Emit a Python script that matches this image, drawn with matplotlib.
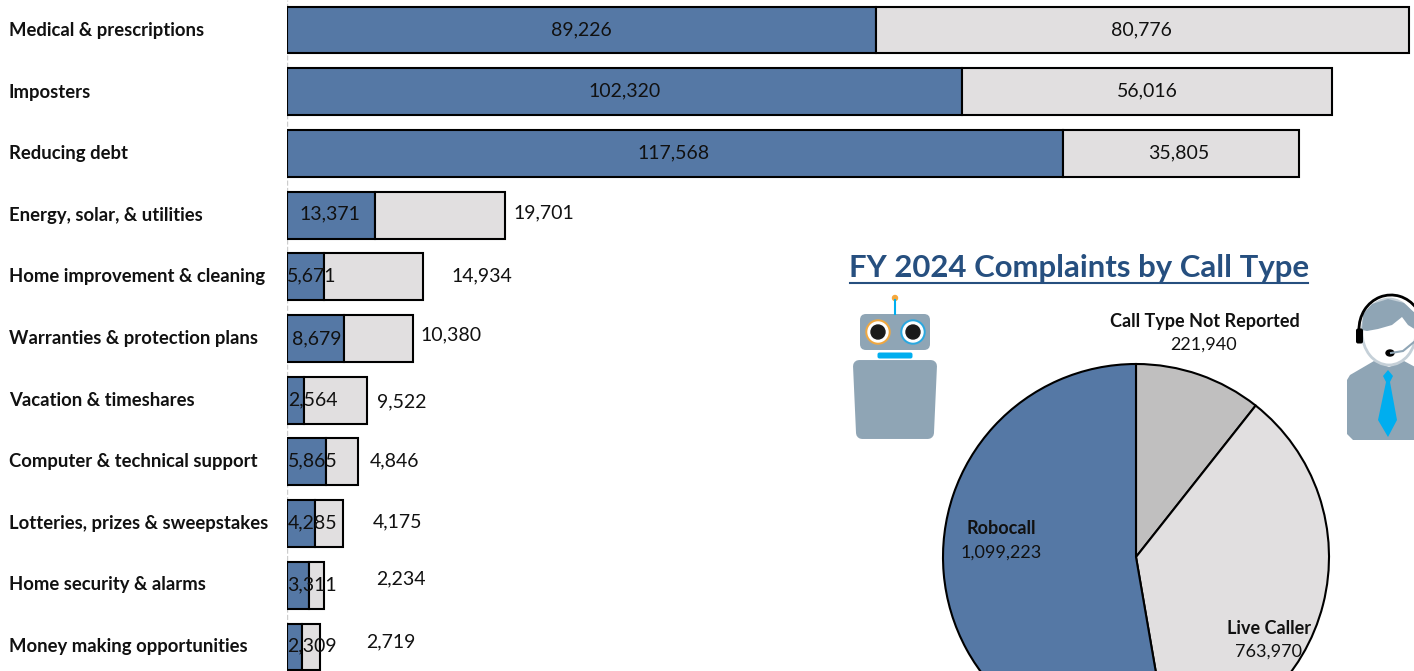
import matplotlib
matplotlib.use("Agg")
import matplotlib.pyplot as plt
from matplotlib.patches import Circle, Ellipse, FancyBboxPatch, Polygon, Arc

plt.rcParams['font.family'] = ['Lato', 'DejaVu Sans']

# Data

categories = ["Medical & prescriptions", "Imposters", "Reducing debt",
              "Energy, solar, & utilities", "Home improvement & cleaning",
              "Warranties & protection plans", "Vacation & timeshares",
              "Computer & technical support", "Lotteries, prizes & sweepstakes",
              "Home security & alarms", "Money making opportunities"]
robocall = [89226, 102320, 117568, 13371, 5671, 8679, 2564, 5865, 4285, 3311, 2309]
live_caller = [80776, 56016, 35805, 19701, 14934, 10380, 9522, 4846, 4175, 2234, 2719]

call_types = ["Call Type Not Reported", "Live Caller", "Robocall"]
call_counts = [221940, 763970, 1099223]

# Label positions in pixels, they were moved by hand in the original

blue_pos = [(581, 30), (625, 91), (674, 153), (330, 214), (312, 276), (317, 339),
            (313, 400), (313, 461), (313, 523), (312, 585), (312, 646)]
gray_pos = [(1141, 30), (1147, 91), (1179, 153), (544, 213), (482, 276), (451, 335),
            (402, 402), (395, 461), (398, 522), (401, 579), (391, 642)]

BLUE = "#5578a5"
LIGHT = "#e1dfe0"
MID = "#c0bfbf"
ICON = "#8fa5b5"
CYAN = "#00aeef"
VALUE_SIZE = 14
NAME_SIZE = 13.3
INK = "#111111"

W, H = 1414, 671
fig = plt.figure(figsize=(W / 100, H / 100), dpi=100)

# Bars

ax = fig.add_axes((287 / W, 0, (W - 287) / W, 1))
y = list(range(len(categories)))
ax.barh(y, robocall, height=0.76, color=BLUE, edgecolor="black", linewidth=1.5)
ax.barh(y, live_caller, left=robocall, height=0.76, color=LIGHT, edgecolor="black", linewidth=1.5)
ax.axvline(0, color="#cccccc", linestyle="--", linewidth=1, zorder=0)
ax.set_xlim(0, (W - 287) / 0.0066)
ax.set_ylim((H - 30) / 61.7, -30 / 61.7)
ax.axis("off")

# Pie, runs past the bottom of the canvas

R = 193
pie_ax = fig.add_axes(((1136 - R) / W, (H - 557 - R) / H, 2 * R / W, 2 * R / H))
pie_ax.pie(call_counts, colors=[MID, LIGHT, BLUE], startangle=90, counterclock=False,
           radius=1, wedgeprops={"edgecolor": "black", "linewidth": 1.5}, normalize=True)
pie_ax.set_xlim(-1, 1)
pie_ax.set_ylim(-1, 1)
for w in pie_ax.patches:
    w.set_clip_on(False)

# Overlay in pixel coordinates for texts and icons

px = fig.add_axes((0, 0, 1, 1))
px.set_xlim(0, W)
px.set_ylim(H, 0)
px.axis("off")
px.patch.set_alpha(0)

for i, name in enumerate(categories):
    px.text(9, 30.5 + i * 61.6, name, fontsize=NAME_SIZE, fontweight="bold", va="center", color=INK)
for i in y:
    px.text(blue_pos[i][0], blue_pos[i][1], format(robocall[i], ","), fontsize=VALUE_SIZE, ha="center", va="center", color=INK)
    px.text(gray_pos[i][0], gray_pos[i][1], format(live_caller[i], ","), fontsize=VALUE_SIZE, ha="center", va="center", color=INK)

px.text(1079, 268, "FY 2024 Complaints by Call Type", fontsize=22.4, fontweight="bold",
        ha="center", va="center", color="#264f7f")
px.plot([850, 1308], [283, 283], color="#264f7f", linewidth=1.5)

px.text(1205, 322, call_types[0], fontsize=13, fontweight="bold", ha="center", va="center", color=INK)
px.text(1204, 345, format(call_counts[0], ","), fontsize=13, ha="center", va="center", color=INK)
px.text(1269, 629, call_types[1], fontsize=13, fontweight="bold", ha="center", va="center", color=INK)
px.text(1268, 652, format(call_counts[1], ","), fontsize=13, ha="center", va="center", color=INK)
px.text(1001, 529, call_types[2], fontsize=13, fontweight="bold", ha="center", va="center", color=INK)
px.text(1001, 553, format(call_counts[2], ","), fontsize=13, ha="center", va="center", color=INK)

# Robot

px.plot([895, 895], [300, 314], color=CYAN, linewidth=1.5)
px.add_patch(Circle((895, 298), 2.5, color="#f5a83c"))
px.add_patch(FancyBboxPatch((863, 317), 64, 30, boxstyle="round,pad=3,rounding_size=6", color=ICON, linewidth=0))
for cx, ring in ((878, "#f0a840"), (913, "#2aa8e0")):
    px.add_patch(Circle((cx, 332), 12, color=ring))
    px.add_patch(Circle((cx, 332), 10, color="white"))
    px.add_patch(Circle((cx, 332), 7, color="#1a1a1a"))
px.add_patch(FancyBboxPatch((879, 354), 32, 3, boxstyle="round,pad=1.5,rounding_size=2", color=CYAN, linewidth=0))
px.add_patch(Polygon([(859, 366), (931, 366), (928, 433), (862, 433)], facecolor=ICON, edgecolor=ICON,
                     linewidth=8.6, joinstyle="round"))

# Caller

px.add_patch(Polygon([(1374, 361), (1389, 367), (1404, 361), (1430, 375), (1430, 440),
                      (1353, 440), (1347, 434), (1347, 380), (1350, 375)], color=ICON, linewidth=0))
px.add_patch(Ellipse((1389, 332), 54, 66, facecolor="white", edgecolor="#c5d0d8", linewidth=2))
px.add_patch(Polygon([(1362, 330), (1363, 314), (1372, 304), (1388, 299), (1404, 303), (1416, 314),
                      (1416, 330), (1408, 325), (1402, 317), (1392, 325), (1378, 329), (1367, 331)],
                     color=ICON, linewidth=0))
px.add_patch(Arc((1391, 329), 64, 68, theta1=178, theta2=320, color="black", linewidth=2))
px.add_patch(FancyBboxPatch((1357.5, 330), 4, 12, boxstyle="round,pad=1.5,rounding_size=2", color="black", linewidth=0))
px.plot([1391, 1403, 1414], [353, 351, 342], color=ICON, linewidth=1.5)
px.add_patch(Ellipse((1390, 353), 8, 6, color="black"))
px.add_patch(Polygon([(1388, 370), (1393, 376), (1390, 382), (1397, 420), (1388, 437), (1378, 420), (1386, 382), (1383, 376)],
                     color=CYAN, linewidth=0))

fig.savefig("out.png", dpi=100)
